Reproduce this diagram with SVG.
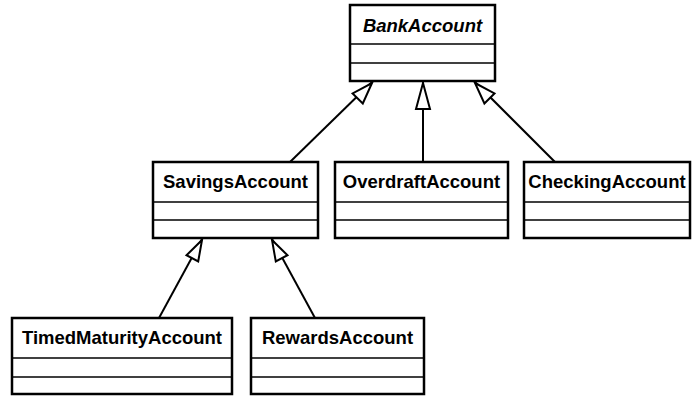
<svg xmlns="http://www.w3.org/2000/svg" width="692" height="396" viewBox="0 0 692 396">
<style>
.box{fill:#fff;stroke:#000;stroke-width:2.5}
.div{stroke:#000;stroke-width:1.5}
.t{font-family:"Liberation Sans",Arial,sans-serif;font-weight:bold;font-size:18.5px;text-anchor:middle;fill:#000}
.i{font-style:italic}
.e{stroke:#000;stroke-width:2;fill:none}
.h{fill:#fff;stroke:#000;stroke-width:2;stroke-linejoin:miter}
</style>
<g id="connectors">
<line class="e" x1="290" y1="162" x2="372" y2="82"/>
<line class="e" x1="423" y1="162" x2="423" y2="82"/>
<line class="e" x1="555" y1="162" x2="475" y2="82"/>
<line class="e" x1="159" y1="318" x2="202" y2="239"/>
<line class="e" x1="315" y1="318" x2="272" y2="239"/>
</g>
<g id="arrowheads">
<polygon class="h" points="372,83 362.8,103.5 352.6,93.4"/>
<polygon class="h" points="423,83 430,109 416,109"/>
<polygon class="h" points="475,83 494.5,93.4 484.4,103.5"/>
<polygon class="h" points="202,240 198.2,261.5 186.5,255.2"/>
<polygon class="h" points="272,240 287.5,255.2 275.8,261.5"/>
</g>
<g id="BankAccount">
<rect class="box" x="350" y="5" width="145" height="76"/>
<line class="div" x1="350" y1="44" x2="495" y2="44"/>
<line class="div" x1="350" y1="63" x2="495" y2="63"/>
<text class="t i" x="422.5" y="32">BankAccount</text>
</g>
<g id="SavingsAccount">
<rect class="box" x="153" y="162" width="165" height="76"/>
<line class="div" x1="153" y1="202" x2="318" y2="202"/>
<line class="div" x1="153" y1="220" x2="318" y2="220"/>
<text class="t" x="235.5" y="188">SavingsAccount</text>
</g>
<g id="OverdraftAccount">
<rect class="box" x="335" y="162" width="173" height="76"/>
<line class="div" x1="335" y1="202" x2="508" y2="202"/>
<line class="div" x1="335" y1="220" x2="508" y2="220"/>
<text class="t" x="421.5" y="188">OverdraftAccount</text>
</g>
<g id="CheckingAccount">
<rect class="box" x="524" y="162" width="166" height="76"/>
<line class="div" x1="524" y1="202" x2="690" y2="202"/>
<line class="div" x1="524" y1="220" x2="690" y2="220"/>
<text class="t" x="607" y="188">CheckingAccount</text>
</g>
<g id="TimedMaturityAccount">
<rect class="box" x="12" y="318" width="220" height="76"/>
<line class="div" x1="12" y1="358" x2="232" y2="358"/>
<line class="div" x1="12" y1="377" x2="232" y2="377"/>
<text class="t" x="122" y="344">TimedMaturityAccount</text>
</g>
<g id="RewardsAccount">
<rect class="box" x="251" y="318" width="173" height="76"/>
<line class="div" x1="251" y1="358" x2="424" y2="358"/>
<line class="div" x1="251" y1="377" x2="424" y2="377"/>
<text class="t" x="337.5" y="344">RewardsAccount</text>
</g>
</svg>
